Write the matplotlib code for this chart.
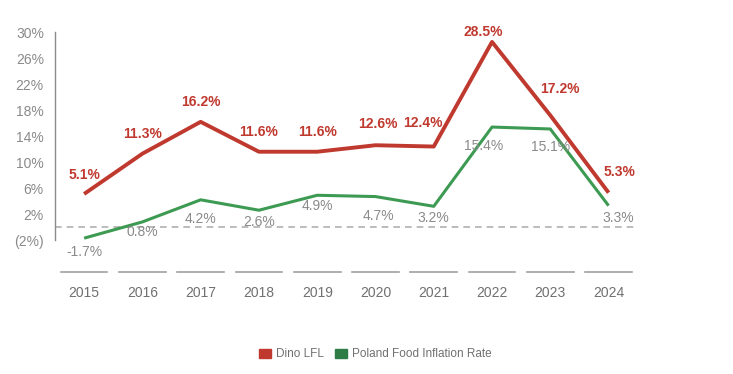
import numpy as np
import matplotlib.pyplot as plt
from matplotlib.patches import Patch
import matplotlib.transforms as mtransforms

plt.rcParams['font.family'] = ['Liberation Sans', 'DejaVu Sans']

years = ['2015', '2016', '2017', '2018', '2019', '2020', '2021', '2022', '2023', '2024']
dino_lfl = [5.1, 11.3, 16.2, 11.6, 11.6, 12.6, 12.4, 28.5, 17.2, 5.3]
food_infl = [-1.7, 0.8, 4.2, 2.6, 4.9, 4.7, 3.2, 15.4, 15.1, 3.3]
yticks = [-2, 2, 6, 10, 14, 18, 22, 26, 30]
ytick_labels = ['(2%)', '2%', '6%', '10%', '14%', '18%', '22%', '26%', '30%']

red = '#c0392f'
green = '#3d9a52'
gray = '#8a8a8a'

# label offsets in points (dx, dy), text centred on the offset
red_off = [(0, 14), (0, 14), (0, 14), (0, 14), (0, 14), (2, 15), (-8, 17), (-6, 7), (7, 19), (8, 15)]
green_off = [(0, -10), (0, -7), (0, -14), (0, -8.5), (0, -8), (2, -14), (0, -8.5), (-6, -14), (0, -13), (7, -9)]

fig = plt.figure(figsize=(7.33, 3.74), dpi=100)
ax = fig.add_axes([0.075, 0.358, 0.795, 0.556])

x = np.arange(len(years))
ax.plot(x, dino_lfl, color=red, lw=2.8, solid_capstyle='butt', zorder=3)
ax.plot(x, food_infl, color=green, lw=2.2, solid_capstyle='butt', zorder=3)
ax.axhline(0, color='#b0b0b0', lw=1.2, ls=(0, (4, 3)), zorder=1)

for i in range(len(years)):
    ax.annotate(f'{dino_lfl[i]:.1f}%', (x[i], dino_lfl[i]), xytext=red_off[i],
                textcoords='offset points', ha='center', va='center',
                color=red, fontsize=10, fontweight='bold')
    ax.annotate(f'{food_infl[i]:.1f}%', (x[i], food_infl[i]), xytext=green_off[i],
                textcoords='offset points', ha='center', va='center',
                color=gray, fontsize=10)

ax.set_xlim(-0.5, len(years) - 0.5)
ax.set_ylim(-2, 30)
ax.set_yticks(yticks)
ax.set_yticklabels(ytick_labels)
ax.tick_params(axis='y', length=0, pad=8, labelcolor=gray, labelsize=10)
ax.set_xticks([])

for s in ['top', 'right', 'bottom']:
    ax.spines[s].set_visible(False)
ax.spines['left'].set_color('#8a8a8a')
ax.spines['left'].set_linewidth(1.0)

# category separators and year labels below the plot
trans = mtransforms.blended_transform_factory(ax.transData, ax.transAxes)
for i, yr in enumerate(years):
    ax.plot([x[i] - 0.4, x[i] + 0.4], [-0.155, -0.155], color='#a0a0a0', lw=1.2,
            transform=trans, clip_on=False)
    ax.text(x[i], -0.255, yr, transform=trans, ha='center', va='center',
            color='#707070', fontsize=10)

handles = [Patch(color=red, label='Dino LFL'),
           Patch(color='#2e7d46', label='Poland Food Inflation Rate')]
fig.legend(handles=handles, loc='center', bbox_to_anchor=(0.512, 0.053), ncol=2,
           frameon=False, fontsize=8.5, handlelength=1.0, handleheight=0.8,
           handletextpad=0.4, columnspacing=1.0, labelcolor='#707070')

fig.savefig('out.png', dpi=100)
